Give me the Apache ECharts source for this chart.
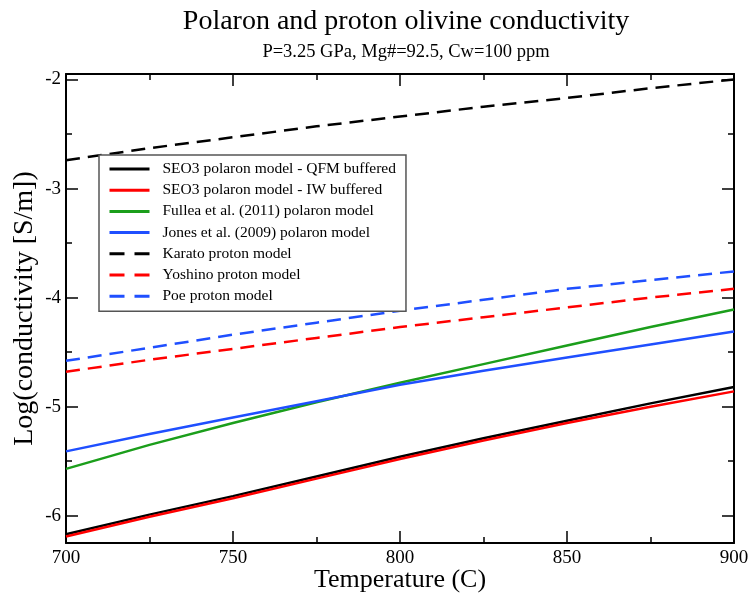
<!DOCTYPE html>
<html>
<head>
<meta charset="utf-8">
<script src="https://cdn.jsdelivr.net/npm/echarts@6/dist/echarts.min.js"></script>
<style>
html,body{margin:0;padding:0;background:#fff;}
#chart{width:750px;height:594px;}
</style>
</head>
<body>
<div id="chart"></div>
<script>
// Temperatures (C)
const temps = [700, 725, 750, 775, 800, 825, 850, 875, 900];
// log10 conductivity [S/m]
const seo3QFM  = [-6.17, -5.99, -5.82, -5.64, -5.46, -5.29, -5.13, -4.97, -4.82];
const seo3IW   = [-6.19, -6.01, -5.84, -5.66, -5.48, -5.31, -5.15, -5.00, -4.86];
const fullea   = [-5.57, -5.35, -5.15, -4.96, -4.78, -4.61, -4.44, -4.27, -4.11];
const jones    = [-5.41, -5.25, -5.10, -4.95, -4.80, -4.67, -4.55, -4.43, -4.31];
const karato   = [-2.74, -2.63, -2.53, -2.43, -2.34, -2.25, -2.17, -2.08, -2.00];
const yoshino  = [-4.68, -4.57, -4.47, -4.37, -4.27, -4.18, -4.09, -4.00, -3.92];
const poe      = [-4.58, -4.46, -4.34, -4.23, -4.12, -4.02, -3.92, -3.84, -3.76];

const seriesNames = [
  'SEO3 polaron model - QFM buffered',
  'SEO3 polaron model - IW buffered',
  'Fullea et al. (2011) polaron model',
  'Jones et al. (2009) polaron model',
  'Karato proton model',
  'Yoshino proton model',
  'Poe proton model'
];
const yMajorTicks = [-6, -5, -4, -3, -2];
const yMinorTicks = [-6.5, -5.5, -4.5, -3.5, -2.5];

const FONT = 'Liberation Serif';
const seriesData = [seo3QFM, seo3IW, fullea, jones, karato, yoshino, poe];
const colors = ['#000000', '#ff0000', '#1b9e1b', '#1f4fff', '#000000', '#ff0000', '#1f4fff'];
const dashed = [false, false, false, false, true, true, true];

const chart = echarts.init(document.getElementById('chart'), null, {renderer: 'canvas'});

const yMin = -6.25, yMax = -1.95;

function xAxisDef(pos, showLabel) {
  return {
    type: 'value', position: pos, min: 700, max: 900, interval: 50,
    axisLine: {show: true, onZero: false, lineStyle: {color: '#000', width: 2}},
    axisTick: {show: true, inside: true, length: 12, lineStyle: {color: '#000', width: 1.5}},
    minorTick: {show: true, splitNumber: 2, length: 6, lineStyle: {color: '#000', width: 1.5}},
    axisLabel: {show: showLabel, color: '#000', fontFamily: FONT, fontSize: 19, margin: 6},
    splitLine: {show: false},
    name: showLabel ? 'Temperature (C)' : '',
    nameLocation: 'middle', nameGap: 24, nameMoveOverlap: false,
    nameTextStyle: {color: '#000', fontFamily: FONT, fontSize: 26}
  };
}
function yAxisDef(pos, ticks, len, showLabel, showLine) {
  return {
    type: 'value', position: pos, min: yMin, max: yMax,
    axisLine: {show: showLine, onZero: false, lineStyle: {color: '#000', width: 2}},
    axisTick: {show: true, inside: true, length: len, customValues: ticks, lineStyle: {color: '#000', width: 1.5}},
    minorTick: {show: false},
    axisLabel: {show: showLabel, customValues: ticks, color: '#000', fontFamily: FONT, fontSize: 19, margin: 5,
      formatter: v => String(v)},
    splitLine: {show: false},
    name: showLabel ? 'Log(conductivity [S/m])' : '',
    nameLocation: 'middle', nameGap: 27, nameRotate: 90, nameMoveOverlap: false,
    nameTextStyle: {color: '#000', fontFamily: FONT, fontSize: 28}
  };
}

const series = seriesNames.map((name, i) => ({
  name: name, type: 'line', xAxisIndex: 0, yAxisIndex: 0,
  data: temps.map((t, k) => [t, seriesData[i][k]]),
  showSymbol: false, symbol: 'none', smooth: false, clip: true,
  color: colors[i],
  lineStyle: {color: colors[i], width: 2.5, type: dashed[i] ? [14, 8] : 'solid'},
  emphasis: {disabled: true}, animation: false
}));

chart.setOption({
  backgroundColor: '#fff',
  animation: false,
  title: {
    text: 'Polaron and proton olivine conductivity',
    subtext: 'P=3.25 GPa, Mg#=92.5, Cw=100 ppm',
    left: 401, top: 3, textAlign: 'center', itemGap: 7,
    textStyle: {fontFamily: FONT, fontSize: 28, fontWeight: 'normal', color: '#000'},
    subtextStyle: {fontFamily: FONT, fontSize: 18.5, color: '#000'}
  },
  grid: {left: 66, right: 16, top: 74, bottom: 51, containLabel: false, outerBoundsMode: 'none'},
  legend: {
    orient: 'vertical', left: 99, top: 155,
    backgroundColor: '#fff', borderColor: '#555', borderWidth: 1.5,
    padding: [6, 10, 7, 9],
    itemWidth: 40, itemHeight: 14, itemGap: 5.2,
    itemStyle: {opacity: 0},
    lineStyle: {width: 3},
    textStyle: {fontFamily: FONT, fontSize: 15.5, color: '#000', padding: [0, 0, 0, 8]},
    data: seriesNames.map((n, i) => dashed[i]
      ? {name: n, lineStyle: {type: [15, 10], width: 3}}
      : {name: n}),
    selectedMode: false
  },
  xAxis: [xAxisDef('bottom', true), xAxisDef('top', false)],
  yAxis: [
    yAxisDef('left', yMajorTicks, 12, true, true),
    yAxisDef('left', yMinorTicks, 6, false, false),
    yAxisDef('right', yMajorTicks, 12, false, true),
    yAxisDef('right', yMinorTicks, 6, false, false)
  ],
  series: series
});
</script>
</body>
</html>
